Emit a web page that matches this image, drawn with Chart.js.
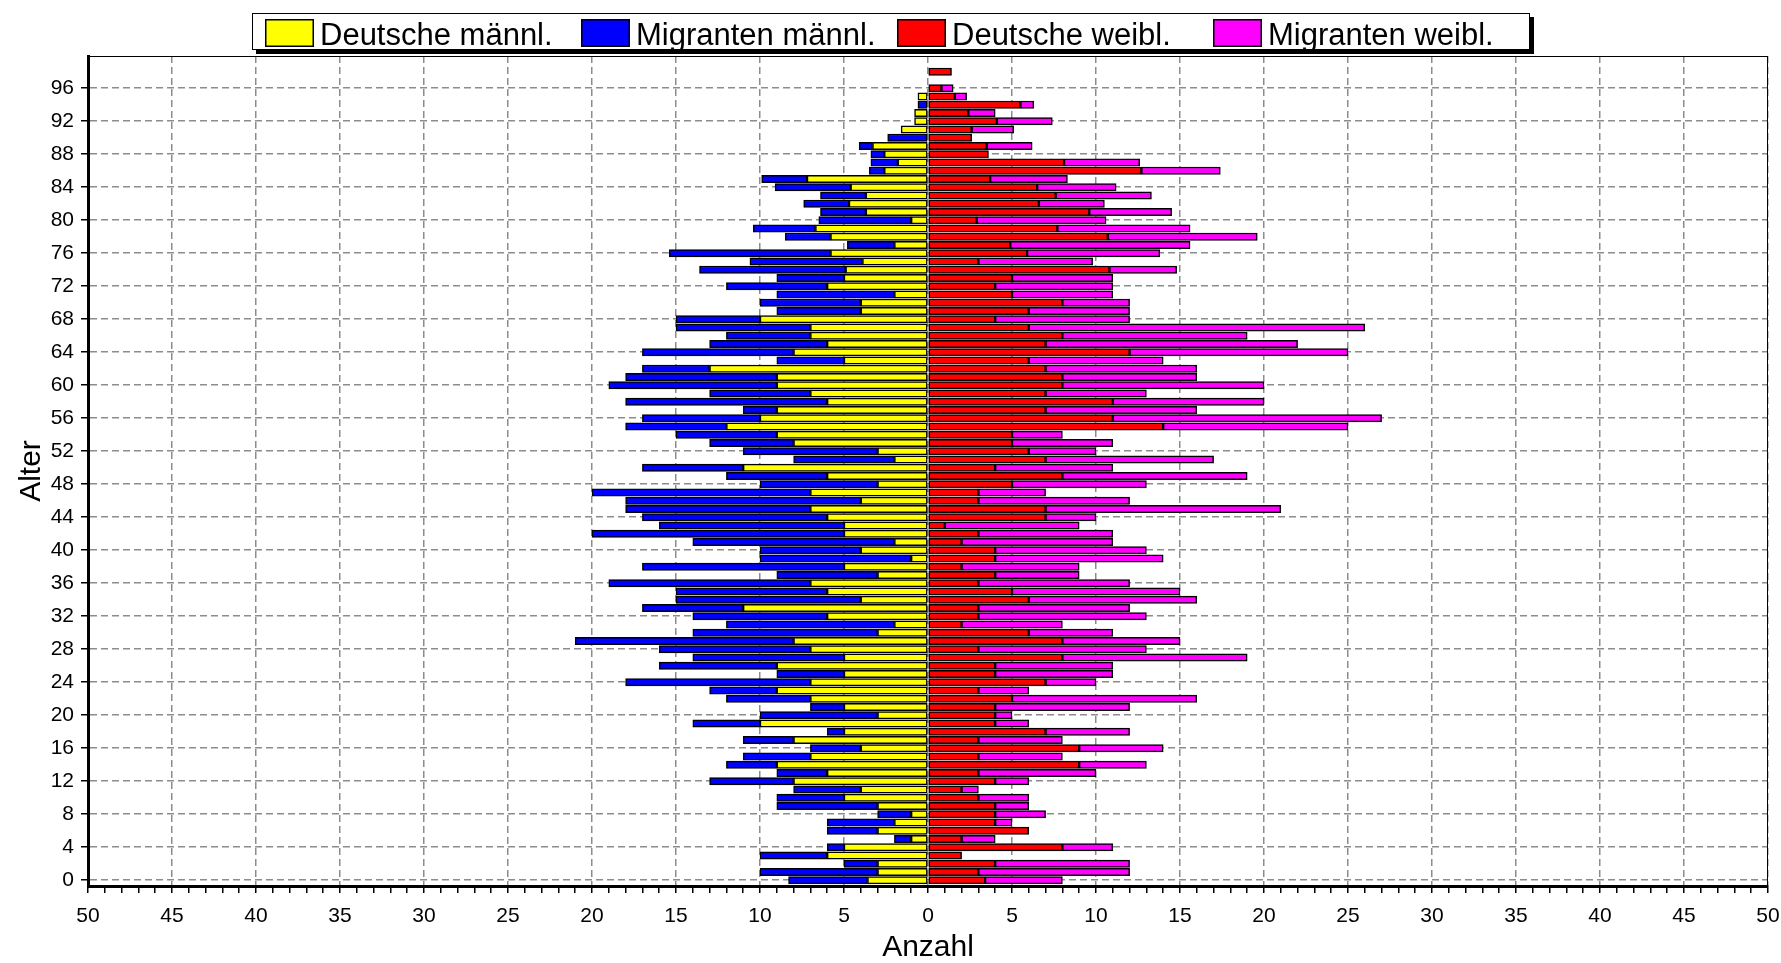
<!DOCTYPE html>
<html><head><meta charset="utf-8">
<script src="https://cdn.jsdelivr.net/npm/chart.js@4"></script>
<style>html,body{margin:0;padding:0;background:#fff;}canvas{display:block;}</style>
</head><body>
<canvas id="c" width="1781" height="963"></canvas>
<script>
// Altersjahre (Kategorien)
const ages = [0,1,2,3,4,5,6,7,8,9,10,11,12,13,14,15,16,17,18,19,20,21,22,23,24,25,26,27,28,29,30,31,32,33,34,35,36,37,38,39,40,41,42,43,44,45,46,47,48,49,50,51,52,53,54,55,56,57,58,59,60,61,62,63,64,65,66,67,68,69,70,71,72,73,74,75,76,77,78,79,80,81,82,83,84,85,86,87,88,89,90,91,92,93,94,95,96,97,98];

const seriesNames = ['Deutsche männl.', 'Migranten männl.', 'Deutsche weibl.', 'Migranten weibl.'];

const deutscheM = [3.6,3,3,6,5,1,3,2,1,3, 5,4,8,6,9,7,4,8,5,10, 3,5,7,9,7,5,9,5,7,8, 3,2,6,11,4,6,7,3,5,1, 4,2,5,5,6,7,4,7,3,6, 11,2,3,8,9,12,10,9,6,7, 9,9,13,5,8,6,7,7,10,4, 4,2,6,5,4.9,3.9,5.8,2.0,5.8,6.7, 1.0,3.7,4.7,3.7,4.6,7.2,2.6,1.8,2.6,3.3, 0,1.6,0.8,0.8,0,0.6,0,0,0];
const migrantenM = [4.7,7,2,4,1,1,3,4,2,6, 4,4,5,3,3,4,3,3,1,4, 7,2,5,4,11,4,7,9,9,13, 11,10,8,6,11,9,12,6,12,9, 6,12,15,11,11,11,14,13,7,6, 6,6,8,5,6,6,7,2,12,6, 10,9,4,4,9,7,5,8,5,5, 6,7,6,4,8.7,6.7,9.6,2.8,2.7,3.7, 5.5,2.7,2.7,2.7,4.5,2.7,0.9,1.6,0.8,0.8, 2.4,0,0,0,0.6,0,0,0,0];
const deutscheW = [3.4,3,4,2,8,2,6,4,4,4, 3,2,4,3,9,3,9,3,7,4, 4,4,5,3,7,4,4,8,3,8, 6,2,3,3,6,5,3,4,2,4, 4,2,3,1,7,7,3,3,5,8, 4,7,6,5,5,14,11,7,11,7, 8,8,7,6,12,7,8,6,4,6, 8,5,4,5,10.8,3.0,5.9,4.9,10.7,7.7, 2.9,9.6,6.6,7.6,6.5,3.7,12.7,8.1,3.6,3.5, 2.6,2.6,4.1,2.4,5.5,1.6,0.8,0,1.4];
const migrantenW = [4.6,9,8,0,3,2,0,1,3,2, 3,1,2,7,4,5,5,5,5,2, 1,8,11,3,3,7,7,11,10,7, 5,6,10,9,10,10,9,5,7,10, 9,9,8,8,3,14,9,4,8,11, 7,10,4,6,3,11,16,9,9,6, 12,8,9,8,13,15,11,20,8,6, 4,6,7,6,4.0,6.8,7.9,10.7,8.9,7.9, 7.7,4.9,3.9,5.7,4.7,4.6,4.7,4.5,0,2.7, 0,2.5,3.3,1.6,0.8,0.7,0.7,0,0];

const xTickStep = 5;   // beschriftete Anzahl-Ticks
const yTickStep = 4;   // beschriftete Alters-Ticks

const FONT = '"Liberation Sans", Arial, sans-serif';
Chart.defaults.font.family = FONT;
Chart.defaults.color = '#000';

const neg = a => a.map(v => -v);
const colors = ['#FFFF00', '#0000FF', '#FF0000', '#FF00FF'];
const values = [neg(deutscheM), neg(migrantenM), deutscheW, migrantenW];

const legendBox = {
  id: 'legendBox',
  afterDraw(chart) {
    const ctx = chart.ctx;
    const ds = chart.data.datasets;
    const colW = 316, padL = 13;
    const w = colW * ds.length + padL + 1, h = 37;
    const left = Math.round(chart.width / 2 - w / 2), top = 13;
    ctx.save();
    ctx.fillStyle = '#000'; ctx.fillRect(left + 4, top + 4, w, h);
    ctx.fillStyle = '#fff'; ctx.fillRect(left, top, w, h);
    ctx.strokeStyle = '#000'; ctx.lineWidth = 1; ctx.strokeRect(left + 0.5, top + 0.5, w - 1, h - 1);
    ctx.font = '31px ' + FONT; ctx.textBaseline = 'alphabetic'; ctx.textAlign = 'left';
    ds.forEach((d, i) => {
      const bx = left + padL + i * colW;
      ctx.fillStyle = d.backgroundColor; ctx.fillRect(bx, top + 6, 49, 28);
      ctx.lineWidth = 1.5; ctx.strokeStyle = '#000'; ctx.strokeRect(bx + 0.75, top + 6.75, 47.5, 26.5);
      ctx.fillStyle = '#000'; ctx.fillText(d.label, bx + 55, top + 32);
    });
    ctx.restore();
  }
};

const frame = {
  id: 'frame',
  afterDatasetsDraw(chart) {
    const {ctx, chartArea: a} = chart;
    ctx.save();
    ctx.strokeStyle = '#000'; ctx.lineWidth = 1;
    ctx.beginPath();
    ctx.moveTo(a.left, a.top + 0.5); ctx.lineTo(a.right, a.top + 0.5);
    ctx.moveTo(a.right - 0.5, a.top); ctx.lineTo(a.right - 0.5, a.bottom);
    ctx.stroke();
    ctx.restore();
  }
};

new Chart(document.getElementById('c'), {
  type: 'bar',
  data: {
    labels: ages,
    datasets: seriesNames.map((n, i) => ({
      label: n,
      data: values[i],
      backgroundColor: colors[i],
      borderColor: '#000',
      borderWidth: 1.5,
      borderSkipped: false,
      barThickness: 7.3
    }))
  },
  options: {
    indexAxis: 'y',
    responsive: false,
    devicePixelRatio: 1,
    animation: false,
    layout: { padding: { top: 56, right: 13, left: 0, bottom: 0 } },
    plugins: { legend: { display: false }, tooltip: { enabled: false } },
    scales: {
      x: {
        type: 'linear', min: -50, max: 50, stacked: true, offset: false,
        ticks: {
          stepSize: 1, autoSkip: false, maxRotation: 0, minRotation: 0, maxTicksLimit: 1000,
          padding: 11, font: { size: 21 }, color: '#000',
          callback: v => (v % xTickStep === 0 ? String(Math.abs(v)) : '')
        },
        grid: {
          offset: false,
          color: c => (c.tick && c.tick.value % xTickStep === 0) ? '#8c8c8c' : 'rgba(0,0,0,0)',
          lineWidth: 1.5, tickColor: '#000', tickLength: 7, tickWidth: 1.5, tickBorderDash: []
        },
        border: { display: true, color: '#000', width: 3, dash: [7, 4] },
        title: { display: true, text: 'Anzahl', font: { size: 30, lineHeight: 1 }, color: '#000', padding: { top: 0, bottom: 0 } },
        afterFit: s => { s.height = 77; s.paddingLeft = 0; s.paddingRight = 0; }
      },
      y: {
        type: 'linear', min: -0.7, max: 99.9, stacked: true, offset: false,
        ticks: {
          stepSize: yTickStep, includeBounds: false, autoSkip: false, maxTicksLimit: 1000,
          padding: 7, font: { size: 21 }, color: '#000'
        },
        grid: { offset: false, color: '#8c8c8c', lineWidth: 1.5, tickColor: '#000', tickLength: 7, tickWidth: 1.5, tickBorderDash: [] },
        border: { display: true, color: '#000', width: 3, dash: [7, 4] },
        title: { display: true, text: 'Alter', font: { size: 30, lineHeight: 1 }, color: '#000', padding: { top: 17, bottom: 0 } },
        afterFit: s => { s.width = 88; s.paddingTop = 0; s.paddingBottom = 0; }
      }
    }
  },
  plugins: [legendBox, frame]
});
</script>
</body></html>
